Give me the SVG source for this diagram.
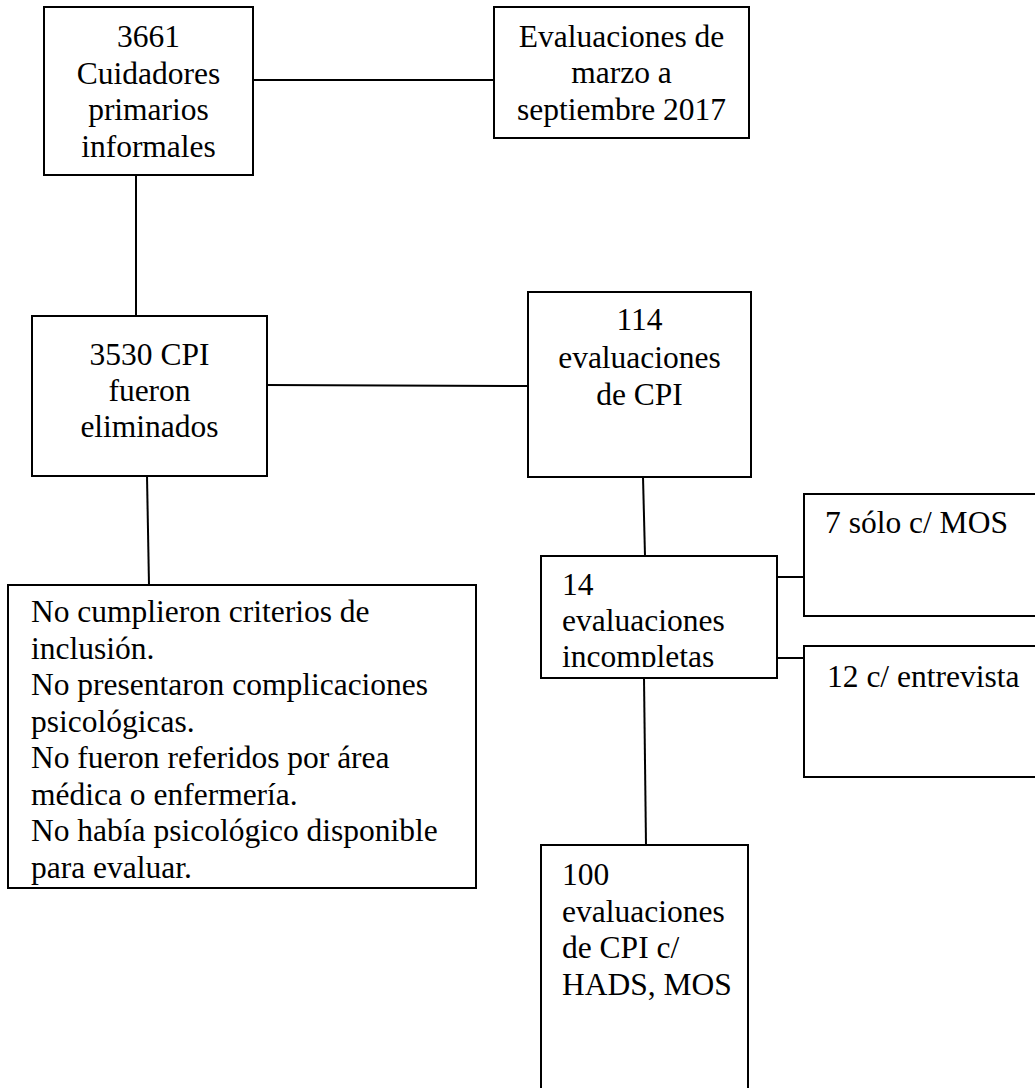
<svg xmlns="http://www.w3.org/2000/svg" width="1035" height="1088" viewBox="0 0 1035 1088">
<style>
.box{fill:#fff;stroke:#000;stroke-width:2}
.ln{stroke:#000;stroke-width:2;fill:none}
text{font-family:"Liberation Serif","Times New Roman",serif;font-size:31.5px;fill:#000}
.c{text-anchor:middle}
</style>
<defs>
<clipPath id="clip14"><rect x="541" y="556" width="236" height="111"/></clipPath>
</defs>
<rect width="1035" height="1088" fill="#fff"/>
<g id="connectors">
<line class="ln" x1="253" y1="80" x2="494" y2="80"/>
<line class="ln" x1="136" y1="175" x2="136" y2="316"/>
<line class="ln" x1="267" y1="385" x2="528" y2="386"/>
<line class="ln" x1="147" y1="476" x2="149" y2="585"/>
<line class="ln" x1="643" y1="477" x2="645" y2="556"/>
<line class="ln" x1="777" y1="577" x2="804" y2="577"/>
<line class="ln" x1="777" y1="658" x2="804" y2="658"/>
<line class="ln" x1="644" y1="678" x2="646" y2="845"/>
</g>
<g id="n3661">
<rect class="box" x="44" y="7" width="209" height="168"/>
<text class="c" x="148.5" y="47">3661</text>
<text class="c" x="148.5" y="84">Cuidadores</text>
<text class="c" x="148.5" y="120">primarios</text>
<text class="c" x="148.5" y="157">informales</text>
</g>
<g id="nEval">
<rect class="box" x="494" y="7" width="255" height="131"/>
<text class="c" x="621.5" y="47">Evaluaciones de</text>
<text class="c" x="621.5" y="83">marzo a</text>
<text class="c" x="621.5" y="120">septiembre 2017</text>
</g>
<g id="n3530">
<rect class="box" x="32" y="316" width="235" height="160"/>
<text class="c" x="149.5" y="365">3530 CPI</text>
<text class="c" x="149.5" y="401">fueron</text>
<text class="c" x="149.5" y="437">eliminados</text>
</g>
<g id="n114">
<rect class="box" x="528" y="292" width="223" height="185"/>
<text class="c" x="639.5" y="330">114</text>
<text class="c" x="639.5" y="368">evaluaciones</text>
<text class="c" x="639.5" y="405">de CPI</text>
</g>
<g id="nExcl">
<rect class="box" x="8" y="585" width="468" height="303"/>
<text x="31" y="622">No cumplieron criterios de</text>
<text x="31" y="658.5">inclusión.</text>
<text x="31" y="695">No presentaron complicaciones</text>
<text x="31" y="731.5">psicológicas.</text>
<text x="31" y="768">No fueron referidos por área</text>
<text x="31" y="804.5">médica o enfermería.</text>
<text x="31" y="841">No había psicológico disponible</text>
<text x="31" y="877.5">para evaluar.</text>
</g>
<g id="n14">
<rect class="box" x="541" y="556" width="236" height="122"/>
<g clip-path="url(#clip14)">
<text x="562" y="595">14</text>
<text x="562" y="631">evaluaciones</text>
<text x="562" y="667">incompletas</text>
</g>
</g>
<g id="n7">
<rect class="box" x="804" y="494" width="240" height="122"/>
<text x="825" y="533">7 sólo c/ MOS</text>
</g>
<g id="n12">
<rect class="box" x="804" y="646" width="240" height="131"/>
<text x="827" y="687">12 c/ entrevista</text>
</g>
<g id="n100">
<rect class="box" x="541" y="845" width="207" height="260"/>
<text x="562" y="885">100</text>
<text x="562" y="922">evaluaciones</text>
<text x="562" y="958">de CPI c/</text>
<text x="562" y="995">HADS, MOS</text>
</g>
</svg>
